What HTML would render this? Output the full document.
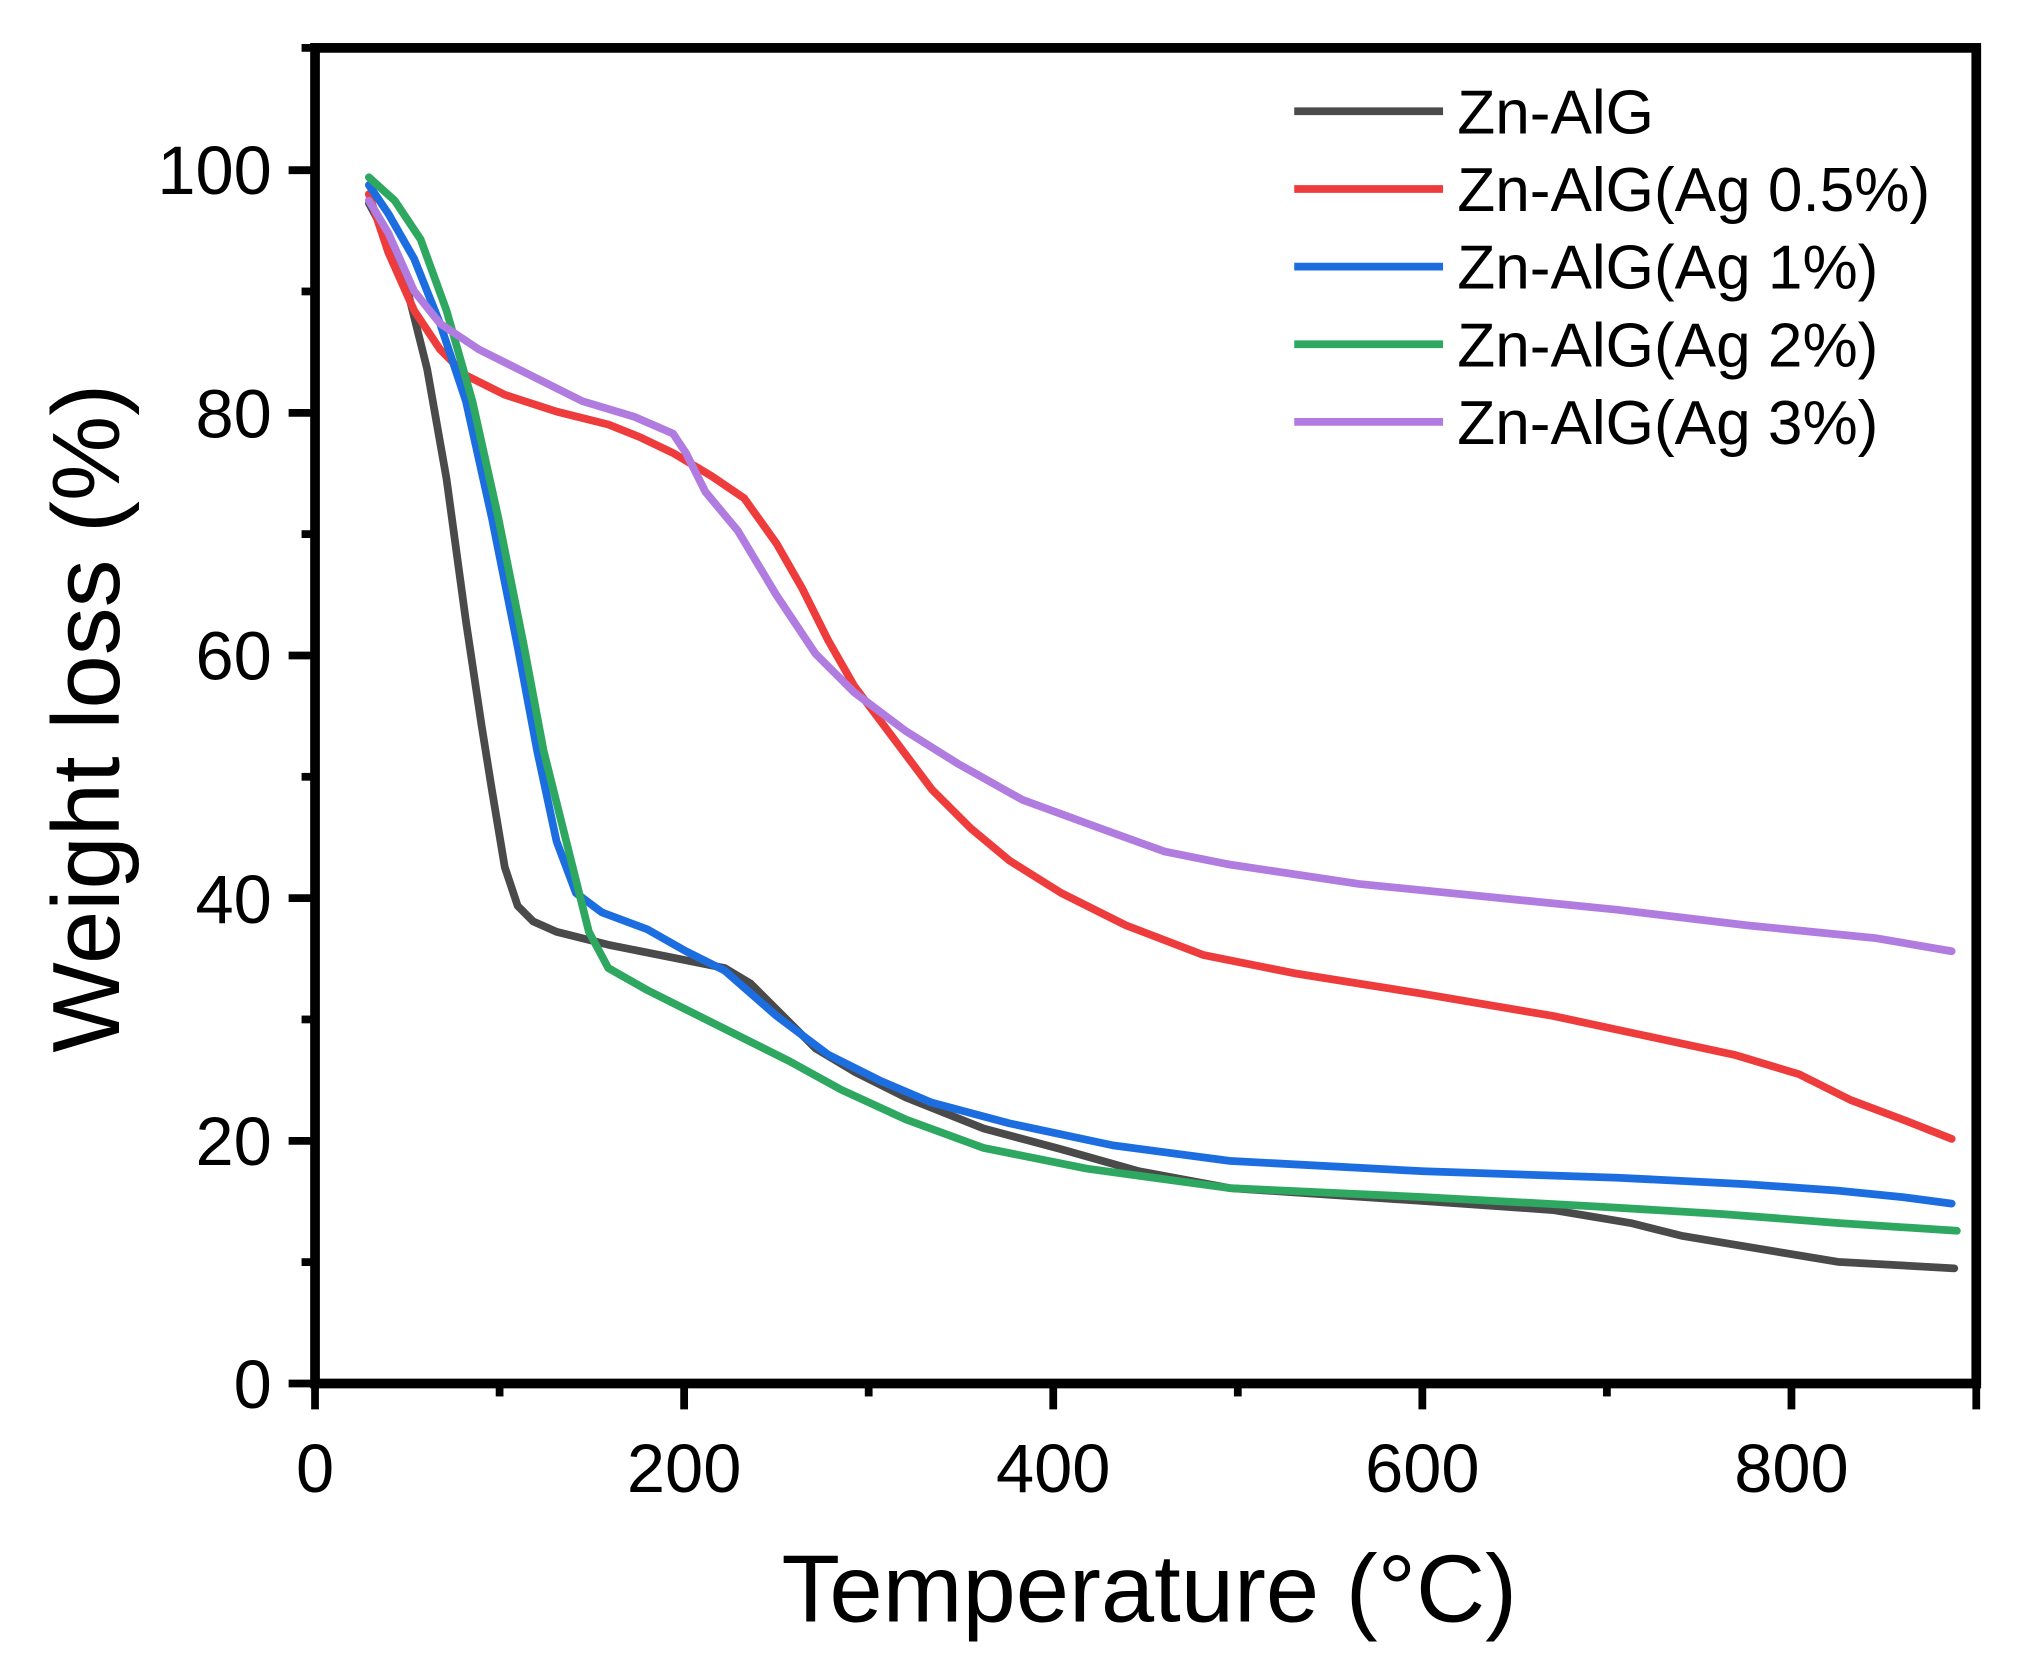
<!DOCTYPE html>
<html><head><meta charset="utf-8"><style>html,body{margin:0;padding:0;background:#fff}svg{display:block}</style></head>
<body>
<svg width="2019" height="1669" viewBox="0 0 1560 1289.6" xmlns="http://www.w3.org/2000/svg" font-family="Liberation Sans, Arial, sans-serif">
<rect width="1560" height="1290" fill="#fff"/>
<g fill="none" stroke-width="6" stroke-linejoin="round" stroke-linecap="round">
<polyline stroke="#4a4a4a" points="285,157 300,185 315,225 330,285 345,370 360,480 372,560 380,610 390,670 400,700 412,712 430,720 470,730 520,740 560,748 580,760 600,780 630,810 660,828 700,848 760,872 820,888 880,905 950,918 1100,928 1200,935 1260,945 1300,955 1360,965 1420,975 1510,980"/>
<polyline stroke="#ee3b3b" points="285,150 300,195 320,240 340,270 360,290 390,305 430,318 470,328 495,338 520,350 550,368 575,385 600,420 620,455 640,495 660,530 690,570 720,610 750,640 780,665 820,690 870,715 930,738 1000,752 1100,768 1200,785 1270,800 1340,815 1390,830 1430,850 1470,865 1508,880"/>
<polyline stroke="#1c6ee0" points="285,143 300,165 320,200 340,250 360,310 380,400 400,500 415,580 430,650 445,690 465,705 500,718 530,735 560,750 600,785 640,815 680,835 720,852 780,868 860,885 950,897 1100,905 1250,910 1350,915 1420,920 1470,925 1508,930"/>
<polyline stroke="#2ea860" points="285,137 305,155 325,185 345,240 365,310 385,400 405,500 420,580 440,660 455,720 470,748 500,765 530,780 570,800 610,820 650,842 700,865 760,887 840,903 950,918 1100,925 1230,932 1330,938 1420,945 1512,951"/>
<polyline stroke="#b07ce0" points="285,155 300,180 320,225 340,250 370,270 410,290 450,310 490,322 520,335 530,350 545,380 570,410 600,460 630,505 660,535 700,565 740,590 790,618 850,640 900,658 950,668 1050,683 1150,693 1250,703 1350,715 1450,725 1508,735"/>
</g>
<g stroke="#000" stroke-width="7.5" fill="none">
<rect x="243.4" y="37" width="1283.6" height="1032"/>
</g>
<g stroke="#000" stroke-width="6">
<line x1="243.4" y1="1069" x2="243.4" y2="1089"/>
<line x1="528.6" y1="1069" x2="528.6" y2="1089"/>
<line x1="813.8" y1="1069" x2="813.8" y2="1089"/>
<line x1="1099" y1="1069" x2="1099" y2="1089"/>
<line x1="1384.2" y1="1069" x2="1384.2" y2="1089"/>
<line x1="386" y1="1069" x2="386" y2="1079"/>
<line x1="671.2" y1="1069" x2="671.2" y2="1079"/>
<line x1="956.4" y1="1069" x2="956.4" y2="1079"/>
<line x1="1241.6" y1="1069" x2="1241.6" y2="1079"/>
<line x1="1527" y1="1069" x2="1527" y2="1089"/>
<line x1="223" y1="1069" x2="243" y2="1069"/>
<line x1="223" y1="881.5" x2="243" y2="881.5"/>
<line x1="223" y1="694" x2="243" y2="694"/>
<line x1="223" y1="506.5" x2="243" y2="506.5"/>
<line x1="223" y1="319" x2="243" y2="319"/>
<line x1="223" y1="131.5" x2="243" y2="131.5"/>
<line x1="233" y1="975.2" x2="243" y2="975.2"/>
<line x1="233" y1="787.7" x2="243" y2="787.7"/>
<line x1="233" y1="600.2" x2="243" y2="600.2"/>
<line x1="233" y1="412.7" x2="243" y2="412.7"/>
<line x1="233" y1="225.2" x2="243" y2="225.2"/>
<line x1="233" y1="37" x2="243" y2="37"/>
</g>
<g font-size="53" fill="#000" text-anchor="middle">
<text x="243.4" y="1153">0</text>
<text x="528.6" y="1153">200</text>
<text x="813.8" y="1153">400</text>
<text x="1099" y="1153">600</text>
<text x="1384.2" y="1153">800</text>
</g>
<g font-size="53" fill="#000" text-anchor="end">
<text x="210" y="1088">0</text>
<text x="210" y="900">20</text>
<text x="210" y="713">40</text>
<text x="210" y="525">60</text>
<text x="210" y="338">80</text>
<text x="210" y="150">100</text>
</g>
<text x="888" y="1253" font-size="74" text-anchor="middle">Temperature (°C)</text>
<text transform="translate(92,555) rotate(-90)" font-size="74" text-anchor="middle">Weight loss (%)</text>
<g stroke-width="6">
<line x1="1000" y1="86" x2="1115" y2="86" stroke="#4a4a4a"/>
<line x1="1000" y1="146" x2="1115" y2="146" stroke="#ee3b3b"/>
<line x1="1000" y1="206" x2="1115" y2="206" stroke="#1c6ee0"/>
<line x1="1000" y1="266" x2="1115" y2="266" stroke="#2ea860"/>
<line x1="1000" y1="326" x2="1115" y2="326" stroke="#b07ce0"/>
</g>
<g font-size="48" fill="#000">
<text x="1126" y="103">Zn-AlG</text>
<text x="1126" y="163">Zn-AlG(Ag 0.5%)</text>
<text x="1126" y="223">Zn-AlG(Ag 1%)</text>
<text x="1126" y="283">Zn-AlG(Ag 2%)</text>
<text x="1126" y="343">Zn-AlG(Ag 3%)</text>
</g>
</svg>
</body></html>
